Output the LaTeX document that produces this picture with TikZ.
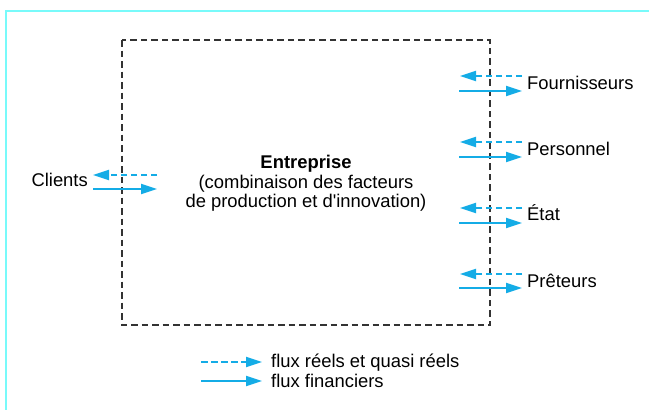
\documentclass[tikz,border=0pt]{standalone}
\usepackage{fontspec}
\setmainfont{Liberation Sans}
\newfontfamily\plainsans{Liberation Sans}
\usetikzlibrary{arrows.meta}
\definecolor{flow}{RGB}{20,172,230}
\definecolor{frame}{RGB}{120,250,250}
\tikzset{
  txt/.style={inner sep=0pt, font=\fontsize{18.4}{22}\selectfont},
  lbl/.style={txt, anchor=base west},
  solidflow/.style={draw=flow, line width=2.1pt, -{Triangle[length=16pt,width=10pt]}},
  dashflow/.style={draw=flow, line width=2.1pt, dash pattern=on 6.5pt off 3.5pt, -{Triangle[length=16pt,width=10pt]}},
  boxline/.style={draw=black!80, line width=1.1pt, dash pattern=on 6.5pt off 4pt}
}
\begin{document}
\begin{tikzpicture}[x=1pt,y=-1pt]
\useasboundingbox (0,0) rectangle (649,410);
% frame
\draw[frame, line width=1.5pt] (6,410) -- (6,11) -- (649,11);
% enterprise box
\draw[boxline] (122,40) rectangle (490,325);
\node[txt, anchor=base, font=\fontsize{18.4}{22}\selectfont\bfseries] (ent) at (306,168) {Entreprise};
\node[txt, anchor=base] (ent2) at (306,188) {(combinaison des facteurs};
\node[txt, anchor=base] (ent3) at (306,207) {\plainsans de production et d'innovation)};
% clients
\node[lbl, anchor=base east] (cli) at (88,186) {Clients};
\coordinate (cdA) at (157,175); \coordinate (cdB) at (93,175);
\coordinate (csA) at (93,189); \coordinate (csB) at (157,189);
\draw[dashflow] (cdA) -- (cdB);
\draw[solidflow] (csA) -- (csB);
% right side
\foreach \nm/\txt/\yd/\ys/\yb in {f/Fournisseurs/76/91/89, p/Personnel/142/157/155, e/État/208/223/220, r/Prêteurs/274/288/287}{
  \node[lbl] (\nm) at (527,\yb) {\txt};
  \coordinate (\nm dA) at (522,\yd); \coordinate (\nm dB) at (460,\yd);
  \coordinate (\nm sA) at (459,\ys); \coordinate (\nm sB) at (522,\ys);
  \draw[dashflow] (\nm dA) -- (\nm dB);
  \draw[solidflow] (\nm sA) -- (\nm sB);
}
% legend
\coordinate (ldA) at (201,362); \coordinate (ldB) at (262,362);
\coordinate (lsA) at (201,381); \coordinate (lsB) at (262,381);
\draw[dashflow] (ldA) -- (ldB);
\draw[solidflow] (lsA) -- (lsB);
\node[lbl] (l1) at (271,367) {flux réels et quasi réels};
\node[lbl] (l2) at (271,387) {flux financiers};
\end{tikzpicture}
\end{document}
